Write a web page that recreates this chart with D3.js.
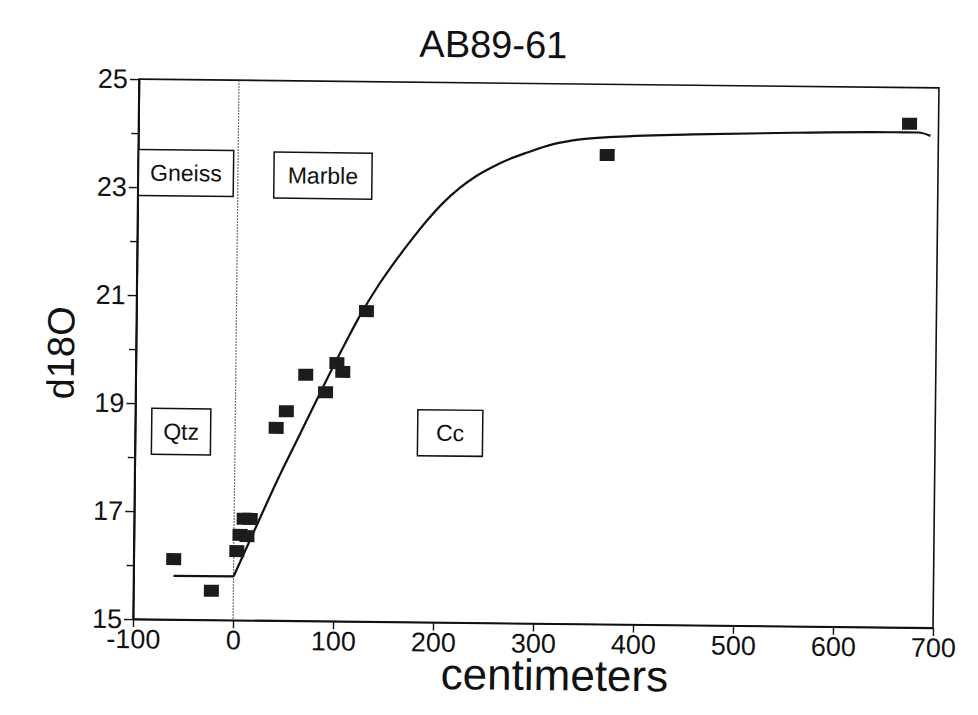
<!DOCTYPE html>
<html>
<head>
<meta charset="utf-8">
<script src="https://cdn.jsdelivr.net/npm/d3@7"></script>
<style>
  html, body { margin: 0; padding: 0; background: #fff; }
  svg { display: block; font-family: "Liberation Sans", Arial, Helvetica, sans-serif; }
</style>
</head>
<body>
<svg id="chart" width="978" height="715"></svg>
<script>
// Measured samples: distance from contact (cm) and d18O
const sampleX = [-60, -22, 3, 6, 13, 10, 16, 41, 51, 70, 90, 101, 107, 130, 369, 671];
const sampleY = [16.12, 15.54, 16.28, 16.58, 16.56, 16.88, 16.88, 18.57, 18.88, 19.56, 19.24, 19.78, 19.62, 20.75, 23.69, 24.33];

// Model profile: flat gneiss side, then the exchange front into the marble
const flatX = [-60, 0];
const flatY = [15.81, 15.81];
const modelX = [0, 20, 43, 60, 86, 105, 124, 140, 156, 173, 190, 206, 222, 238, 255, 272, 289, 315, 340, 370, 455, 555, 655, 680, 692];
const modelY = [15.81, 16.65, 17.61, 18.27, 19.28, 20.0, 20.68, 21.18, 21.62, 22.05, 22.45, 22.78, 23.05, 23.27, 23.45, 23.6, 23.72, 23.88, 23.97, 24.02, 24.09, 24.14, 24.17, 24.17, 24.11];

// Axis ticks
const xTicks = [-100, 0, 100, 200, 300, 400, 500, 600, 700];
const yMajor = [15, 17, 19, 21, 23, 25];
const yMinor = [16, 18, 20, 22, 24];

// Rock-type labels, anchored in data units
const zoneText = ["Gneiss", "Marble", "Qtz", "Cc"];
const zoneX = [-52, 85, -54, 215];
const zoneY = [23.27, 23.25, 18.48, 18.51];

(function () {
  const svg = d3.select("#chart");
  // the whole figure sits slightly skewed on the page
  const g = svg.append("g").attr("transform", "rotate(0.63, 536, 353.5)");

  const pl = 136, pr = 936, pt = 83.5, pb = 623.5;
  const x = d3.scaleLinear().domain([-100, 700]).range([pl, pr]);
  const y = d3.scaleLinear().domain([15, 25]).range([pb, pt]);

  // frame
  g.append("rect")
    .attr("x", pl).attr("y", pt)
    .attr("width", pr - pl).attr("height", pb - pt)
    .attr("fill", "none").attr("stroke", "#111").attr("stroke-width", 1.6);

  // contact line at 0 cm
  g.append("line")
    .attr("x1", x(0)).attr("x2", x(0))
    .attr("y1", pt).attr("y2", pb)
    .attr("stroke", "#444").attr("stroke-width", 1.2)
    .attr("stroke-dasharray", "1.5,1.5");

  // axes (plain hyphen for negatives)
  const fmt = d => String(d);
  const xAxis = g.append("g")
    .attr("transform", `translate(0,${pb})`)
    .call(d3.axisBottom(x).tickValues(xTicks).tickFormat(fmt).tickSize(8).tickSizeOuter(0).tickPadding(2));
  const yAxis = g.append("g")
    .attr("transform", `translate(${pl},0)`)
    .call(d3.axisLeft(y).tickValues(yMajor).tickFormat(fmt).tickSize(9).tickSizeOuter(0).tickPadding(2));
  const yAxisMinor = g.append("g")
    .attr("transform", `translate(${pl},0)`)
    .call(d3.axisLeft(y).tickValues(yMinor).tickSize(7).tickSizeOuter(0).tickFormat(""));

  [xAxis, yAxis, yAxisMinor].forEach(a => {
    a.select(".domain").attr("stroke", "#111").attr("stroke-width", 1.6);
    a.selectAll(".tick line").attr("stroke", "#111").attr("stroke-width", 1.4);
    a.selectAll(".tick text")
      .attr("fill", "#111")
      .attr("font-size", 27)
      .attr("font-family", "'Liberation Sans', Arial, sans-serif");
  });

  // model curve
  const line = d3.line().x(d => x(d[0])).y(d => y(d[1]));
  g.append("path")
    .datum(flatX.map((v, i) => [v, flatY[i]]))
    .attr("d", line)
    .attr("fill", "none").attr("stroke", "#111").attr("stroke-width", 2.2);
  g.append("path")
    .datum(modelX.map((v, i) => [v, modelY[i]]))
    .attr("d", line.curve(d3.curveMonotoneX))
    .attr("fill", "none").attr("stroke", "#111").attr("stroke-width", 2.2);

  // samples
  const mw = 15, mh = 12;
  g.selectAll("rect.sample")
    .data(sampleX.map((v, i) => [v, sampleY[i]]))
    .join("rect")
    .attr("class", "sample")
    .attr("x", d => x(d[0]) - mw / 2)
    .attr("y", d => y(d[1]) - mh / 2)
    .attr("width", mw).attr("height", mh)
    .attr("fill", "#1c1c1c");

  // zone labels in boxes
  const boxW = [95, 98, 59, 65], boxH = 46;
  zoneText.forEach((t, i) => {
    const cx = x(zoneX[i]), cy = y(zoneY[i]);
    g.append("rect")
      .attr("x", cx - boxW[i] / 2).attr("y", cy - boxH / 2)
      .attr("width", boxW[i]).attr("height", boxH)
      .attr("fill", "#fff").attr("stroke", "#111").attr("stroke-width", 1.5);
    g.append("text")
      .attr("x", cx).attr("y", cy + 8)
      .attr("text-anchor", "middle")
      .attr("font-size", 23).attr("fill", "#111")
      .text(t);
  });

  // title and axis titles
  g.append("text")
    .attr("x", 490).attr("y", 58)
    .attr("text-anchor", "middle")
    .attr("font-size", 38).attr("fill", "#111")
    .text("AB89-61");
  g.append("text")
    .attr("x", 558).attr("y", 690)
    .attr("text-anchor", "middle")
    .attr("font-size", 44).attr("fill", "#111")
    .text("centimeters");
  g.append("text")
    .attr("transform", "translate(74,358) rotate(-90)")
    .attr("text-anchor", "middle")
    .attr("font-size", 38).attr("fill", "#111")
    .text("d18O");
})();
</script>
</body>
</html>
